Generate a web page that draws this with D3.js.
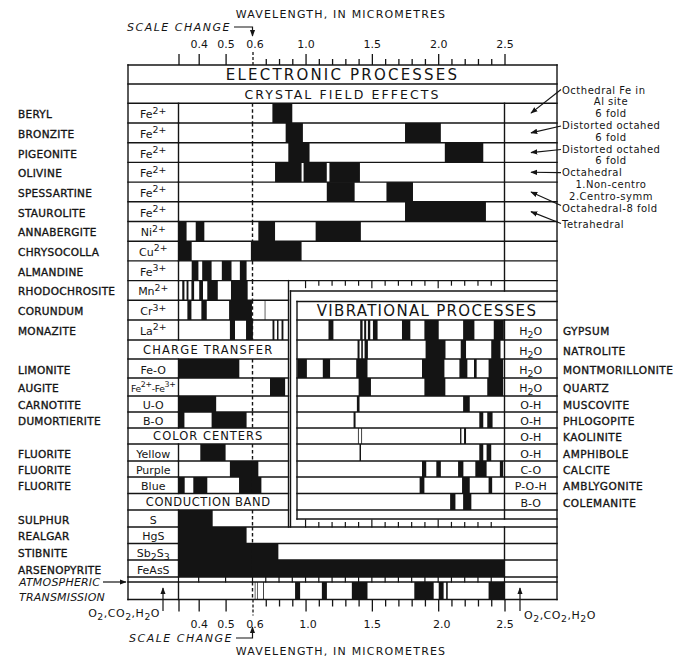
<!DOCTYPE html>
<html><head><meta charset="utf-8">
<script src="https://cdn.jsdelivr.net/npm/d3@7/dist/d3.min.js"></script>
<style>
html,body{margin:0;padding:0;background:#fff;}
text{font-family:"DejaVu Sans",Verdana,sans-serif;fill:#141414;}
</style></head>
<body>
<script>
// ---------------- DATA ----------------
const majorTicks = [0.325, 0.4, 0.5, 0.6, 1.0, 1.5, 2.0, 2.5];
const tickLabels = ["", "0.4", "0.5", "0.6", "1.0", "1.5", "2.0", "2.5"];
const minorTicks = [0.7, 0.8, 0.9, 1.1, 1.2, 1.3, 1.4, 1.6, 1.7, 1.8, 1.9, 2.1, 2.2, 2.3, 2.4];

const crystalMinerals = ["BERYL","BRONZITE","PIGEONITE","OLIVINE","SPESSARTINE","STAUROLITE","ANNABERGITE","CHRYSOCOLLA","ALMANDINE","RHODOCHROSITE","CORUNDUM","MONAZITE"];
const crystalIons = ["Fe^{2+}","Fe^{2+}","Fe^{2+}","Fe^{2+}","Fe^{2+}","Fe^{2+}","Ni^{2+}","Cu^{2+}","Fe^{3+}","Mn^{2+}","Cr^{3+}","La^{2+}"];
const crystalBands = [
  [[0.75,0.90]],
  [[0.85,0.98],[1.75,2.02]],
  [[0.87,1.03],[2.05,2.34]],
  [[0.77,0.97],[0.985,1.16],[1.18,1.41]],
  [[1.16,1.37],[1.61,1.81]],
  [[1.75,2.36]],
  [[0.325,0.355],[0.389,0.421],[0.644,0.77],[1.076,1.417]],
  [[0.325,0.374],[0.594,0.97]],
  [[0.374,0.399],[0.413,0.448],[0.486,0.522],[0.553,0.578]],
  [[0.339,0.347],[0.355,0.362],[0.373,0.383],[0.402,0.416],[0.432,0.471],[0.52,0.582]],
  [[0.358,0.373],[0.41,0.43],[0.513,0.598],[0.692,0.697]],
  [[0.516,0.535],[0.576,0.603],[0.751,0.765],[0.785,0.796],[0.819,0.833]]
];
const crystalSites = [
  ["Octhedral Fe in","Al site","6 fold"],
  ["Distorted octahed","6 fold"],
  ["Distorted octahed","6 fold"],
  ["Octahedral","1.Non-centro","2.Centro-symm"],
  ["Octahedral-8 fold"],
  ["Tetrahedral"]
];

const chargeMinerals = ["LIMONITE","AUGITE","CARNOTITE","DUMORTIERITE"];
const chargeGroups = ["Fe-O","Fe^{2+}-Fe^{3+}","U-O","B-O"];
const chargeBands = [
  [[0.325,0.551]],
  [[0.732,0.846]],
  [[0.325,0.465]],
  [[0.325,0.347],[0.448,0.578]]
];

const colorMinerals = ["FLUORITE","FLUORITE","FLUORITE"];
const colorGroups = ["Yellow","Purple","Blue"];
const colorBands = [
  [[0.406,0.5]],
  [[0.516,0.644]],
  [[0.325,0.348],[0.38,0.432],[0.55,0.667]]
];

const conductionMinerals = ["SULPHUR","REALGAR","STIBNITE","ARSENOPYRITE"];
const conductionGroups = ["S","HgS","Sb_{2}S_{3}","FeAsS"];
const conductionBands = [
  [[0.325,0.452]],
  [[0.325,0.578]],
  [[0.325,0.795]],
  [[0.325,2.5]]
];

const vibMinerals = ["GYPSUM","NATROLITE","MONTMORILLONITE","QUARTZ","MUSCOVITE","PHLOGOPITE","KAOLINITE","AMPHIBOLE","CALCITE","AMBLYGONITE","COLEMANITE"];
const vibGroups = ["H_{2}O","H_{2}O","H_{2}O","H_{2}O","O-H","O-H","O-H","O-H","C-O","P-O-H","B-O"];
const vibBands = [
  [[1.173,1.21],[1.412,1.43],[1.442,1.457],[1.47,1.488],[1.508,1.543],[1.727,1.79],[1.896,2.004],[2.188,2.273],[2.419,2.495]],
  [[1.392,1.407],[1.42,1.432],[1.445,1.47],[1.905,2.055],[2.17,2.21],[2.4,2.47]],
  [[0.938,1.01],[1.13,1.185],[1.382,1.467],[1.878,2.047],[2.16,2.22],[2.27,2.29],[2.38,2.49]],
  [[1.4,1.493],[1.896,2.054],[2.37,2.49]],
  [[1.387,1.407],[2.188,2.238]],
  [[1.362,1.377],[2.31,2.34],[2.37,2.41]],
  [[1.395,1.401],[1.42,1.426],[2.165,2.175],[2.195,2.21]],
  [[1.407,1.418],[2.31,2.34],[2.365,2.4]],
  [[1.878,1.91],[1.986,2.02],[2.15,2.19],[2.28,2.365],[2.465,2.49]],
  [[1.86,1.896],[2.18,2.238],[2.38,2.407]],
  [[2.09,2.13],[2.188,2.25]]
];

const atmosBands = [[0.617,0.622],[0.634,0.639],[0.68,0.686],[0.921,0.959],[1.123,1.161],[1.349,1.467],[1.82,1.966],[2.004,2.041],[2.06,2.072],[2.38,2.5]];
const atmosGases = "O_{2},CO_{2},H_{2}O";

// ---------------- LAYOUT ----------------
const W = 680, H = 657, INK = "#141414", LW = 1.4;
const X0 = 128, XION = 178.5, XL = 288.5, X25 = 504.5, XR = 557;
const VOX = 290.5, VIX = 297, VOT = 291, VIT = 301.5, VIB = 519;
const xs = d3.scaleLinear().domain([0.325, 0.6, 2.5]).range([XION, 252.5, X25]);
const edges = [65, 84, 103.3, 123, 142.7, 162.4, 182.1, 201.8, 221.5, 241.2, 260.9, 280.6, 300.3, 320, 340, 359, 378, 396, 412, 428, 444, 461, 477, 493.5, 510, 527, 543.5, 560, 577];
const ATOP = 582, ABOT = 599.5;
const rowMid = r => (edges[r] + edges[r+1]) / 2;

const svg = d3.select("body").append("svg").attr("width", W).attr("height", H);
svg.append("rect").attr("width", W).attr("height", H).attr("fill", "#fff");

const defs = svg.append("defs");
defs.append("marker").attr("id","ah").attr("viewBox","0 0 10 10").attr("refX",9).attr("refY",5)
  .attr("markerWidth",7).attr("markerHeight",7).attr("markerUnits","userSpaceOnUse").attr("orient","auto")
  .append("path").attr("d","M0,1.2L10,5L0,8.8Z").attr("fill",INK);

// chemistry text helper
function chem(sel, str, fs) {
  const parts = str.match(/\^\{[^}]*\}|_\{[^}]*\}|[^^_]+/g);
  let cur = 0;
  parts.forEach(p => {
    let t = p, off = 0, small = false;
    if (p.startsWith("^{")) { t = p.slice(2,-1); off = -0.42; small = true; }
    else if (p.startsWith("_{")) { t = p.slice(2,-1); off = 0.3; small = true; }
    const ts = sel.append("tspan").text(t).attr("dy", ((off - cur) * fs) + "px");
    if (small) ts.attr("font-size", (fs * 0.85) + "px");
    cur = off;
  });
}

// ---------------- BARS ----------------
const gBars = svg.append("g").attr("fill", INK);
function drawBands(bands, y0, y1, xa, xb) {
  gBars.selectAll(null).data(bands).enter().append("rect")
    .attr("x", d => Math.max(xs(d[0]), xa))
    .attr("width", d => Math.max(0, Math.min(xs(d[1]), xb) - Math.max(xs(d[0]), xa)))
    .attr("y", y0).attr("height", y1 - y0);
}
const plotRight = r => (r <= 10 || r >= 25) ? X25 : XL;
crystalBands.forEach((b,i) => drawBands(b, edges[2+i], edges[3+i], XION, plotRight(2+i)));
chargeBands.forEach((b,i) => drawBands(b, edges[15+i], edges[16+i], XION, XL));
colorBands.forEach((b,i) => drawBands(b, edges[20+i], edges[21+i], XION, XL));
conductionBands.forEach((b,i) => drawBands(b, edges[24+i], edges[25+i], XION, plotRight(24+i)));
vibBands.forEach((b,i) => drawBands(b, edges[13+i], edges[14+i], VIX, X25));
drawBands(atmosBands, ATOP, ABOT, XION, X25);

// ---------------- FRAME LINES ----------------
const gL = svg.append("g").attr("stroke", INK).attr("stroke-width", LW).attr("fill","none").attr("stroke-linecap","square");
const hline = (x1,x2,y) => gL.append("line").attr("x1",x1).attr("x2",x2).attr("y1",y).attr("y2",y);
const vline = (x,y1,y2) => gL.append("line").attr("x1",x).attr("x2",x).attr("y1",y1).attr("y2",y2);

edges.forEach((y,i) => hline(X0, (i <= 11 || i >= 25) ? XR : XL, y));
vline(X0, edges[0], ABOT);
vline(XR, edges[0], ABOT);
vline(XL, edges[11], edges[25]);
[[edges[2], VOT], [edges[13], VIB], [edges[25], edges[28]], [ATOP, ABOT]].forEach(s => vline(X25, s[0], s[1]));
// vibrational boxes
hline(VOX, XR, VOT); vline(VOX, VOT, edges[25]);
hline(VIX, XR, VIT); vline(VIX, VIT, VIB); hline(VIX, XR, VIB);
for (let i = 13; i <= 24; i++) hline(VIX, XR, edges[i]);
// atmospheric box
hline(X0, XR, ATOP); hline(X0, XR, ABOT);
vline(XION, ATOP, ABOT);

// ion dividers + dashed 0.6 per data row
const dataRows = d3.range(2,14).concat(d3.range(15,19), d3.range(20,23), d3.range(24,28));
dataRows.forEach(r => {
  vline(XION, edges[r], edges[r+1]);
  vline(xs(0.6), edges[r], edges[r+1]).attr("stroke-dasharray","3.5,2.5").attr("stroke-linecap","butt");
});
vline(xs(0.6), ATOP, ABOT).attr("stroke-dasharray","3.5,2.5").attr("stroke-linecap","butt");

// tick strips inside the frame
const allTicks = majorTicks.concat(minorTicks);
const isMajor = t => [1.0,1.5,2.0].includes(t);
const vibTicks = allTicks.filter(t => t >= 1.0 && t < 2.5).sort((a,b)=>a-b);
gL.selectAll(null).data(vibTicks).enter().append("line")
  .attr("x1", d => xs(d)).attr("x2", d => xs(d))
  .attr("y1", edges[11]).attr("y2", d => edges[11] + (isMajor(d) ? 7 : 4.5)).attr("stroke-width",1.2);
gL.selectAll(null).data(vibTicks).enter().append("line")
  .attr("x1", d => xs(d)).attr("x2", d => xs(d))
  .attr("y1", edges[25]).attr("y2", d => edges[25] - (isMajor(d) ? 7 : 4.5)).attr("stroke-width",1.2);
gL.selectAll(null).data(allTicks).enter().append("line")
  .attr("x1", d => xs(d)).attr("x2", d => xs(d))
  .attr("y1", edges[28]).attr("y2", ATOP).attr("stroke-width",1.2);

// ---------------- AXES ----------------
function styleAxis(g) {
  g.select(".domain").remove();
  g.selectAll("line").attr("stroke", INK).attr("stroke-width", 1.3);
  g.attr("font-size", 11);
}
const gTop = svg.append("g").attr("transform", `translate(0,${edges[0]})`)
  .call(d3.axisTop(xs).tickValues(majorTicks).tickSize(11).tickPadding(6).tickFormat((d,i) => tickLabels[i]))
  .call(styleAxis);
svg.append("g").attr("transform", `translate(0,${edges[0]})`)
  .call(d3.axisTop(xs).tickValues(minorTicks).tickSize(6).tickFormat(""))
  .call(styleAxis);
gTop.selectAll(".tick").filter(d => d === 0.6).select("line").attr("stroke-dasharray","3,2").attr("y2",-15);
gTop.selectAll(".tick").filter(d => d === 0.6).select("text").attr("dx", 2);

const gBot = svg.append("g").attr("transform", `translate(0,${ABOT})`)
  .call(d3.axisBottom(xs).tickValues(majorTicks).tickSize(12).tickPadding(9).tickFormat((d,i) => tickLabels[i]))
  .call(styleAxis);
svg.append("g").attr("transform", `translate(0,${ABOT})`)
  .call(d3.axisBottom(xs).tickValues(minorTicks).tickSize(7).tickFormat(""))
  .call(styleAxis);
gBot.selectAll(".tick").filter(d => d === 0.6).select("line").attr("stroke-dasharray","3,2").attr("y2",16);
gBot.selectAll(".tick").filter(d => d === 0.6).select("text").attr("dx", 2);
gBot.selectAll(".tick").filter(d => d === 1.0).select("text").attr("dx", 2);
gBot.selectAll(".tick").filter(d => d === 2.0).select("text").attr("dx", 3);

// axis titles & scale change notes
const T = (x, y, s, o) => {
  const t = svg.append("text").attr("x", x).attr("y", y).attr("dominant-baseline","central").text(s);
  Object.entries(o || {}).forEach(([k,v]) => t.attr(k, v));
  return t;
};
T(341, 14, "WAVELENGTH, IN MICROMETRES", {"font-size":11, "text-anchor":"middle", "letter-spacing":1.2});
T(341, 651, "WAVELENGTH, IN MICROMETRES", {"font-size":11, "text-anchor":"middle", "letter-spacing":1.2});
T(231, 27, "SCALE CHANGE", {"font-size":11, "text-anchor":"end", "font-style":"italic", "letter-spacing":1.5});
T(233, 638, "SCALE CHANGE", {"font-size":11, "text-anchor":"end", "font-style":"italic", "letter-spacing":1.5});
const gA = svg.append("g").attr("stroke", INK).attr("stroke-width", 1.2).attr("fill","none");
gA.append("path").attr("d", `M234,27H${xs(0.6)}V36`).attr("marker-end","url(#ah)");
gA.append("path").attr("d", `M236,638H${xs(0.6)}V627`).attr("marker-end","url(#ah)");

// ---------------- HEADERS ----------------
const midX = (X0 + XR) / 2, midL = (X0 + XL) / 2;
T(midX, (edges[0]+edges[1])/2 + 0.5, "ELECTRONIC PROCESSES", {"font-size":15, "text-anchor":"middle", "letter-spacing":2.2});
T(midX, (edges[1]+edges[2])/2 + 0.5, "CRYSTAL FIELD EFFECTS", {"font-size":12.5, "text-anchor":"middle", "letter-spacing":2.1});
T(midL, rowMid(14), "CHARGE TRANSFER", {"font-size":11.5, "text-anchor":"middle", "letter-spacing":1.2});
T(midL, rowMid(19), "COLOR CENTERS", {"font-size":11.5, "text-anchor":"middle", "letter-spacing":1.0});
T(midL, rowMid(23), "CONDUCTION BAND", {"font-size":11.5, "text-anchor":"middle", "letter-spacing":0.6});
T((VIX + XR)/2, (VIT + edges[13])/2 + 0.5, "VIBRATIONAL PROCESSES", {"font-size":15, "text-anchor":"middle", "letter-spacing":1.3});

// ---------------- ROW LABELS ----------------
const leftLab = (s, r) => T(18, rowMid(r) + 1, s, {"font-size":10.5, "letter-spacing":0.3, "stroke":INK, "stroke-width":0.35});
const ionLab = (s, r, fs) => { const t = T((X0+XION)/2, rowMid(r) + 1, "", {"font-size":fs, "text-anchor":"middle"}); chem(t, s, fs); return t; };
crystalMinerals.forEach((s,i) => leftLab(s, 2+i));
crystalIons.forEach((s,i) => ionLab(s, 2+i, 11));
chargeMinerals.forEach((s,i) => leftLab(s, 15+i));
chargeGroups.forEach((s,i) => { const t = ionLab(s, 15+i, s.length > 8 ? 9.2 : 11); if (s.length > 8) t.attr("letter-spacing", -0.3); });
colorMinerals.forEach((s,i) => leftLab(s, 20+i));
colorGroups.forEach((s,i) => ionLab(s, 20+i, 11));
conductionMinerals.forEach((s,i) => leftLab(s, 24+i));
conductionGroups.forEach((s,i) => ionLab(s, 24+i, 11));

vibMinerals.forEach((s,i) => T(563, rowMid(13+i) + 1, s, {"font-size":10.5, "letter-spacing":0.5, "stroke":INK, "stroke-width":0.35}));
vibGroups.forEach((s,i) => { const t = T((X25+XR)/2, rowMid(13+i) + 1, "", {"font-size":11, "text-anchor":"middle"}); chem(t, s, 11); });

// ---------------- SITE ANNOTATIONS ----------------
const siteY = [90, 125.4, 149, 172.6, 208.2, 224.5];
const arrowY0 = [89.5, 126, 149.5, 172.6, 205.5, 223.5];
const SITE_GAP = 11.8;
crystalSites.forEach((lines, i) => {
  lines.forEach((s, j) => {
    if (j === 0) T(562, siteY[i], s, {"font-size":10, "letter-spacing":0.5});
    else T(611, siteY[i] + j*SITE_GAP, s, {"font-size":10, "letter-spacing":0.5, "text-anchor":"middle"});
  });
  gA.append("line").attr("x1", 561).attr("y1", arrowY0[i]).attr("x2", 531).attr("y2", rowMid(2+i)).attr("marker-end","url(#ah)");
});

// ---------------- ATMOSPHERIC ----------------
T(19, ATOP, "ATMOSPHERIC", {"font-size":11, "font-style":"italic", "letter-spacing":0.2});
T(19, ABOT - 2, "TRANSMISSION", {"font-size":11, "font-style":"italic", "letter-spacing":0.2});
gA.append("path").attr("d", `M103,${ATOP}H126`).attr("marker-end","url(#ah)");
const g1 = T(160, 613, "", {"font-size":11, "text-anchor":"end", "letter-spacing":0.5}); chem(g1, atmosGases, 11);
const g2 = T(524, 615, "", {"font-size":11, "letter-spacing":0.5}); chem(g2, atmosGases, 11);
gA.append("path").attr("d", `M163,611V${ATOP+6}`).attr("marker-end","url(#ah)");
gA.append("path").attr("d", `M520,611V${ATOP+6}`).attr("marker-end","url(#ah)");
</script>
</body></html>
